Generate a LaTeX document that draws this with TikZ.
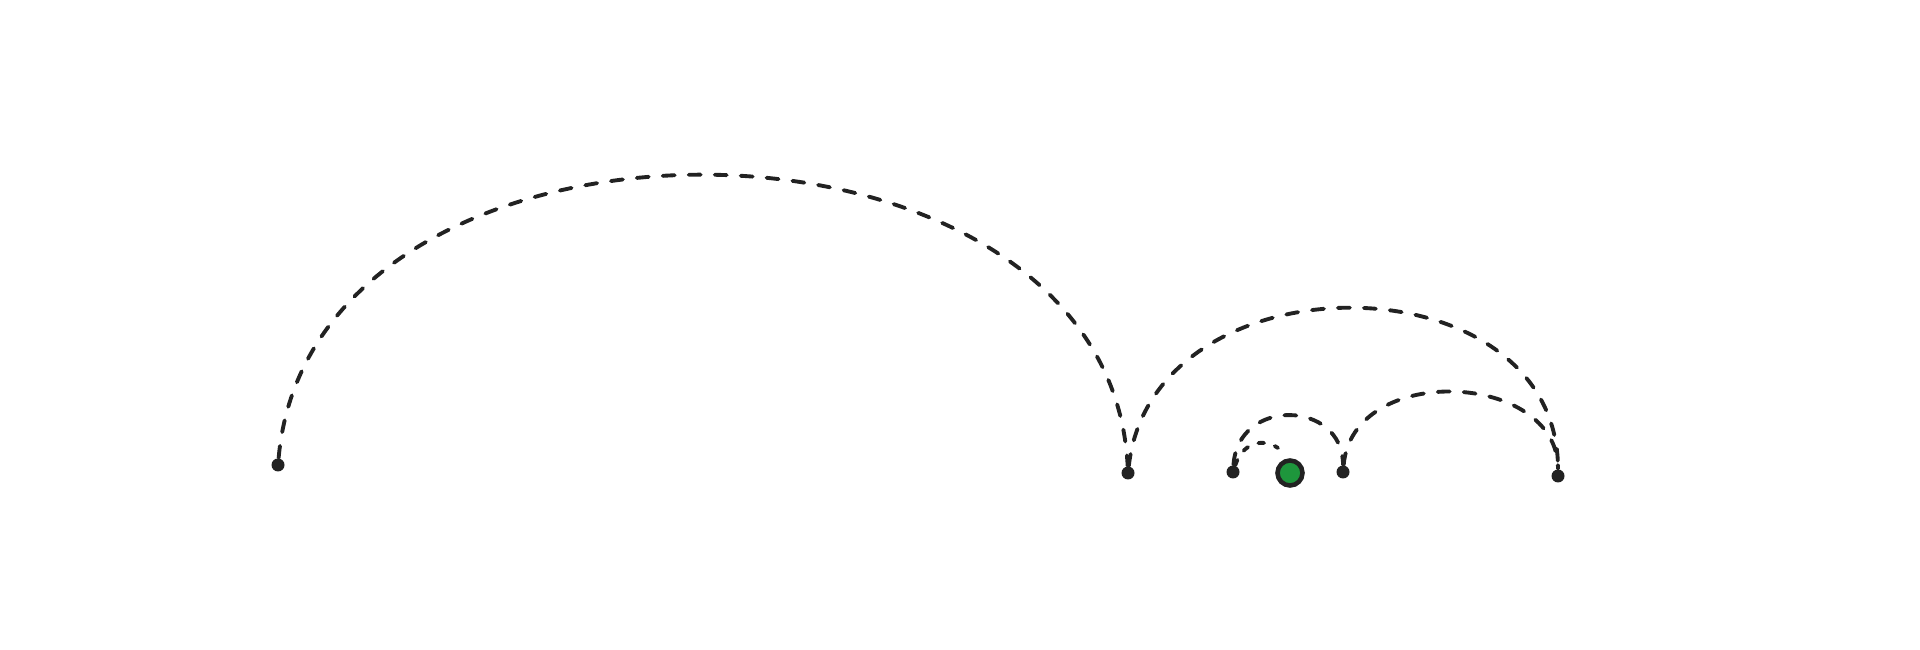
\documentclass[tikz,border=0pt]{standalone}
\usetikzlibrary{calc}

\definecolor{ink}{RGB}{34,34,34}
\definecolor{leaf}{RGB}{30,150,60}

\begin{document}
\begin{tikzpicture}[line cap=round,
                dot node/.style={circle,fill=ink,inner sep=0pt,minimum size=0.13cm},
                hop/.style={ink,line width=1.1pt,dash pattern=on 3.4pt off 4pt}]
	\useasboundingbox (0,0) rectangle (19.2,6.5);

	\node[dot node] (a) at (2.78,1.85) {};
	\node[dot node] (b) at (11.28,1.77) {};
	\node[dot node] (c) at (12.33,1.78) {};
	\node[dot node] (d) at (13.43,1.78) {};
	\node[dot node] (e) at (15.58,1.74) {};
	\node[circle,draw=ink,line width=1.3pt,fill=leaf,inner sep=0pt,minimum size=0.25cm] (g) at (12.90,1.77) {};
	\coordinate (gt) at (12.78,2.02);

	\draw[hop] (a) .. controls +(0.35,3.9) and +(-0.2,3.9) .. (b);
	\draw[hop] (b) .. controls +(0.25,2.2) and +(0,2.2) .. (e);
	\draw[hop] (d) .. controls +(0.1,1.1) and +(0,1.05) .. (e);
	\draw[hop] (c) .. controls +(0.05,0.75) and +(0,0.72) .. (d);
	\draw[ink,line width=1.1pt,dash pattern=on 1.6pt off 3.2pt] (c) .. controls +(0.1,0.3) and +(-0.15,0.1) .. (gt);

\end{tikzpicture}
\end{document}
